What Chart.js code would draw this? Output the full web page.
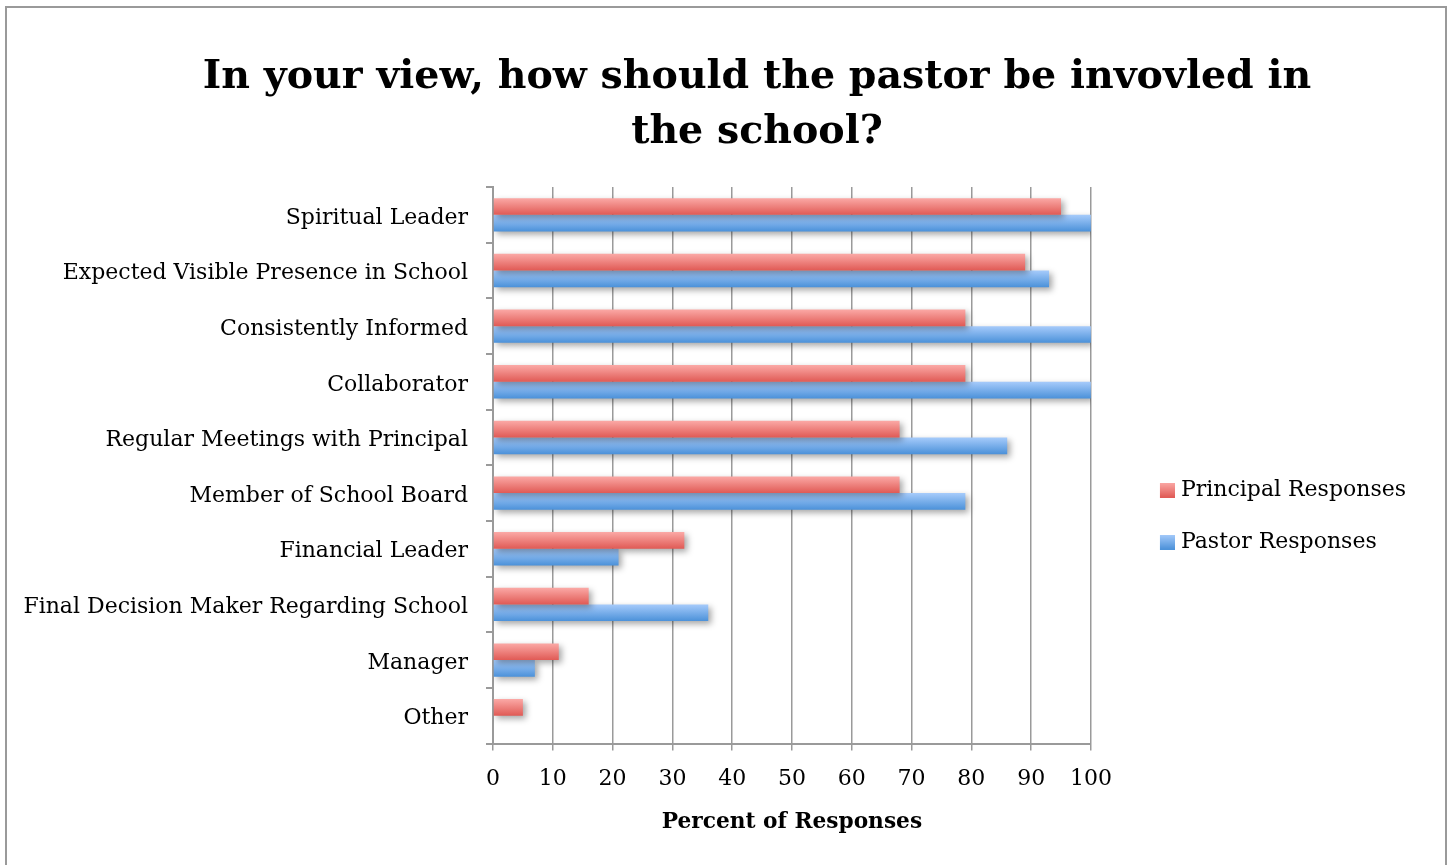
<!DOCTYPE html>
<html>
<head>
<meta charset="utf-8">
<script src="https://cdn.jsdelivr.net/npm/chart.js@4.4.1/dist/chart.umd.min.js"></script>
<style>
  html, body { margin: 0; padding: 0; background: #ffffff; }
  canvas { display: block; }
</style>
</head>
<body>
<canvas id="c" width="1452" height="865"></canvas>
<script>
const categories = [
  'Spiritual Leader',
  'Expected Visible Presence in School',
  'Consistently Informed',
  'Collaborator',
  'Regular Meetings with Principal',
  'Member of School Board',
  'Financial Leader',
  'Final Decision Maker Regarding School',
  'Manager',
  'Other'
];
const principalResponses = [95, 89, 79, 79, 68, 68, 32, 16, 11, 5];
const pastorResponses = [100, 93, 100, 100, 86, 79, 21, 36, 7, 0];
const xTicks = [0, 10, 20, 30, 40, 50, 60, 70, 80, 90, 100];
const titleLines = ['In your view, how should the pastor be invovled in', 'the school?'];
const xAxisTitle = 'Percent of Responses';
const seriesNames = ['Principal Responses', 'Pastor Responses'];

const SERIF = "'DejaVu Serif', 'Liberation Serif', serif";
const gradStops = [
  ['#fba9a6', '#e05a55'],
  ['#a6cbfb', '#4b91d9']
];

// legend swatch images: a 15x15 gradient square at the right end of a wider transparent strip
const LEG_BOX_W = 49, LEG_IMG_W = 59;
function makeSwatch(stops) {
  const c = document.createElement('canvas');
  c.width = LEG_IMG_W; c.height = 15;
  const x = c.getContext('2d');
  const g = x.createLinearGradient(0, 0, 0, 15);
  g.addColorStop(0, stops[0]);
  g.addColorStop(1, stops[1]);
  x.fillStyle = g;
  x.fillRect(LEG_IMG_W - 15, 0, 15, 15);
  return c;
}
const swatches = gradStops.map(makeSwatch);

const frameAndStyle = {
  id: 'frameAndStyle',
  beforeDraw(chart) {
    const ctx = chart.ctx;
    ctx.save();
    ctx.fillStyle = '#ffffff';
    ctx.fillRect(0, 0, chart.width, chart.height);
    ctx.strokeStyle = '#9a9a9a';
    ctx.lineWidth = 2;
    ctx.strokeRect(6, 7, 1440, 900);
    ctx.restore();
  },
  afterLayout(chart) {
    const s = chart.scales.y;
    s.left = 0;
    s.width = s.right;
  },
  beforeDatasetsDraw(chart) {
    const ctx = chart.ctx;
    chart.data.datasets.forEach((ds, i) => {
      const meta = chart.getDatasetMeta(i);
      meta.data.forEach(el => {
        const top = el.y - el.height / 2;
        const bottom = el.y + el.height / 2;
        const g = ctx.createLinearGradient(0, top, 0, bottom);
        g.addColorStop(0, gradStops[i][0]);
        g.addColorStop(1, gradStops[i][1]);
        el.options = Object.assign({}, el.options, { backgroundColor: g });
      });
    });
    ctx.save();
    ctx.shadowColor = 'rgba(0,0,0,0.35)';
    ctx.shadowBlur = 6;
    ctx.shadowOffsetX = 3;
    ctx.shadowOffsetY = 3;
  },
  afterDatasetsDraw(chart) {
    chart.ctx.restore();
  }
};

new Chart(document.getElementById('c'), {
  type: 'bar',
  data: {
    labels: categories,
    datasets: [
      { label: seriesNames[0], data: principalResponses, backgroundColor: '#ee7f7b', borderWidth: 0 },
      { label: seriesNames[1], data: pastorResponses, backgroundColor: '#75aeea', borderWidth: 0 }
    ]
  },
  plugins: [frameAndStyle],
  options: {
    indexAxis: 'y',
    responsive: false,
    animation: false,
    events: [],
    layout: { padding: { left: 98, right: 36, top: 50, bottom: 30 } },
    datasets: { bar: { categoryPercentage: 0.6, barPercentage: 1.0 } },
    scales: {
      x: {
        min: 0, max: 100,
        afterBuildTicks(scale) { scale.ticks = xTicks.map(v => ({ value: v })); },
        grid: { color: '#9a9a9a', lineWidth: 1.5, tickLength: 7, drawTicks: true },
        border: { color: '#9a9a9a', width: 2 },
        ticks: { color: '#000', font: { family: SERIF, size: 22 }, padding: 16, maxRotation: 0 },
        title: { display: true, text: xAxisTitle, color: '#000', font: { family: SERIF, size: 21.7, weight: 'bold' }, padding: { top: 0, bottom: 0 } }
      },
      y: {
        afterFit(scale) { scale.width = 395; },
        grid: { offset: true, drawOnChartArea: false, drawTicks: true, tickLength: 7, color: '#9a9a9a', lineWidth: 2 },
        border: { color: '#9a9a9a', width: 2 },
        ticks: { color: '#000', font: { family: SERIF, size: 22 }, padding: 18, autoSkip: false, labelOffset: 3 }
      }
    },
    plugins: {
      title: {
        display: true,
        text: titleLines,
        color: '#000',
        font: { family: SERIF, size: 39.5, weight: 'bold', lineHeight: 55 / 39.5 },
        padding: { top: 0, bottom: 27 }
      },
      legend: {
        position: 'right',
        align: 'start',
        title: { display: true, text: ' ', font: { size: 10 }, padding: { top: 387, bottom: 0 } },
        labels: {
          color: '#000',
          font: { family: SERIF, size: 22 },
          usePointStyle: true,
          pointStyleWidth: LEG_BOX_W,
          boxHeight: 15,
          padding: 30,
          generateLabels(chart) {
            const items = Chart.defaults.plugins.legend.labels.generateLabels(chart);
            items.forEach((it, i) => { it.pointStyle = swatches[i]; });
            return items;
          }
        }
      },
      tooltip: { enabled: false }
    }
  }
});
</script>
</body>
</html>
